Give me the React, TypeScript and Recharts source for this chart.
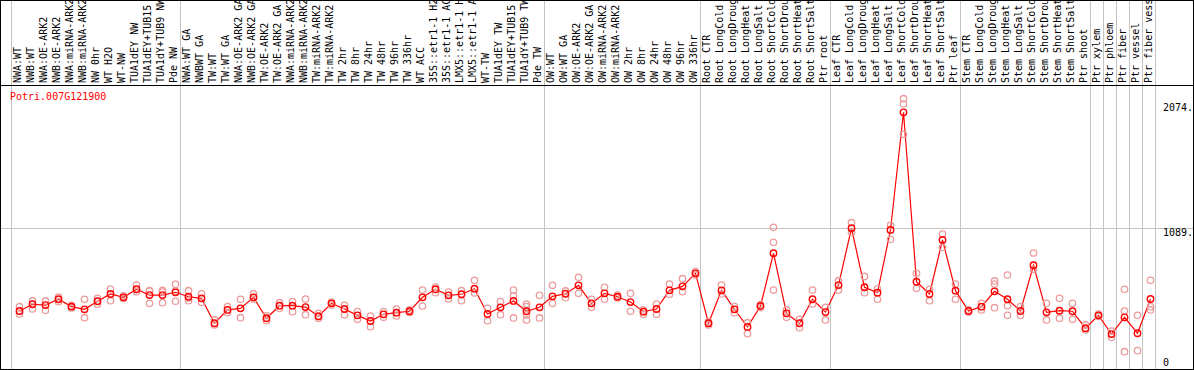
import { ComposedChart, Line, ReferenceLine, Scatter, XAxis, YAxis } from "recharts";

// sample labels, left to right
const categories = [
  "NWA:WT", "NWB:WT", "NWA:OE-ARK2", "NWB:OE-ARK2", "NWA:miRNA-ARK2", "NWB:miRNA-ARK2", "NW 0hr", "WT H2O", "WT-NW",
  "TUA1dEY NW", "TUA1dEY+TUB15 NW", "TUA1dY+TUB9 NW", "Pde NW",
  "NWA:WT GA", "NWBWT GA", "TW:WT", "TW:WT GA", "NWA:OE-ARK2 GA", "NWB:OE-ARK2 GA", "TW:OE-ARK2", "TW:OE-ARK2 GA",
  "NWA:miRNA-ARK2", "NWB:miRNA-ARK2", "TW:miRNA-ARK2", "TW:miRNA-ARK2", "TW 2hr", "TW 8hr", "TW 24hr", "TW 48hr",
  "TW 96hr", "TW 336hr", "WT ACC", "35S::etr1-1 H2O", "35S::etr1-1 ACC", "LMX5::etr1-1 H2O", "LMX5::etr1-1 ACC",
  "WT-TW", "TUA1dEY TW", "TUA1dEY+TUB15 TW", "TUA1dY+TUB9 TW", "Pde TW",
  "OW:WT", "OW:WT GA", "OW:OE-ARK2", "OW:OE-ARK2 GA", "OW:miRNA-ARK2", "OW:miRNA-ARK2", "OW 2hr", "OW 8hr",
  "OW 24hr", "OW 48hr", "OW 96hr", "OW 336hr",
  "Root CTR", "Root LongCold", "Root LongDrought", "Root LongHeat", "Root LongSalt", "Root ShortCold",
  "Root ShortDrought", "Root ShortHeat", "Root ShortSalt", "Ptr root",
  "Leaf CTR", "Leaf LongCold", "Leaf LongDrought", "Leaf LongHeat", "Leaf LongSalt", "Leaf ShortCold",
  "Leaf ShortDrought", "Leaf ShortHeat", "Leaf ShortSalt", "Ptr leaf",
  "Stem CTR", "Stem LongCold", "Stem LongDrought", "Stem LongHeat", "Stem LongSalt", "Stem ShortCold",
  "Stem ShortDrought", "Stem ShortHeat", "Stem ShortSalt", "Ptr shoot",
  "Ptr xylem", "Ptr phloem", "Ptr fiber", "Ptr vessel", "Ptr fiber vessel",
];

const meanValues = [
  463, 514, 508, 552, 496, 476, 537, 592, 567, 628,
  584, 584, 605, 571, 559, 370, 471, 483, 567, 408,
  503, 503, 493, 423, 521, 478, 430, 387, 438, 450,
  461, 567, 628, 582, 590, 632, 440, 491, 539, 461,
  491, 574, 594, 658, 521, 597, 571, 531, 458, 478,
  620, 650, 749, 370, 620, 476, 342, 501, 901, 445,
  370, 552, 455, 660, 1091, 643, 602, 1078, 1971, 685,
  592, 1002, 617, 463, 496, 612, 552, 463, 810, 453,
  465, 461, 332, 430, 288, 415, 294, 554,
];

// replicate measurements
const rep1 = [
  496, 541, 539, 569, 505, 552, 559, 630, 577, 660,
  617, 607, 666, 617, 594, 395, 496, 552, 594, 427,
  526, 535, 554, 445, 531, 506, 458, 425, 458, 478,
  471, 622, 645, 607, 617, 696, 483, 534, 622, 516,
  582, 658, 615, 719, 552, 643, 584, 597, 471, 516,
  668, 708, 761, 382, 660, 496, 374, 512, 1098, 471,
  400, 622, 491, 693, 1133, 725, 631, 1113, 2074, 749,
  628, 1047, 668, 471, 521, 691, 736, 496, 903, 521,
  559, 521, 357, 440, 263, 628, 430, 696,
];

const rep2 = [
  440, 478, 468, 534, 486, 412, 514, 541, 558, 609,
  521, 526, 537, 541, 529, 357, 450, 412, 554, 389,
  483, 458, 435, 408, 508, 435, 400, 344, 415, 425,
  452, 501, 602, 554, 541, 600, 389, 435, 577, 496,
  410, 521, 564, 597, 491, 552, 562, 461, 438, 438,
  590, 609, 736, 357, 592, 450, 291, 489, 984, 415,
  336, 516, 395, 622, 1060, 602, 552, 1007, 2034, 635,
  541, 946, 552, 455, 471, 668, 503, 430, 779, 395,
  408, 400, 319, 421, 311, 463, 162, 496,
];

const rep3 = [
  null, null, null, null, null, null, null, null, null, null,
  614, 619, 615, 562, null, null, null, null, null, null,
  null, null, null, null, null, null, null, null, null, null,
  null, null, null, null, null, null, null, null, 410, 433,
  null, null, null, null, null, null, null, null, null, null,
  null, null, null, null, null, null, null, null, 622, null,
  null, null, null, null, null, null, null, null, 1804, null,
  null, null, null, null, null, 488, 430, null, null, null,
  null, null, null, null, null, 154, null, 471,
];

const rep4 = [
  null, null, null, null, null, null, null, null, null, null,
  null, null, null, null, null, null, null, null, null, null,
  null, null, null, null, null, null, null, null, null, null,
  null, null, null, null, null, null, null, null, null, 395,
  null, null, null, null, null, null, null, null, null, null,
  null, null, null, null, null, null, null, null, null, null,
  null, null, null, null, null, null, null, null, null, null,
  null, null, null, null, null, null, null, null, null, null,
  null, null, null, null, null, null, null, null,
];

// group boundaries (index of first sample in each block)
const groupBreaks = [0, 13, 41, 53, 63, 73, 83, 84, 85, 86, 87, 88];
const yTicks = [0, 1089, 2074];
const yMax = 2178;
const geneId = "Potri.007G121900";

const W = 1194;
const H = 372;
const FONT = "'DejaVu Sans Mono', monospace";
const BAND_OFFSET = 8 / 13;
const tickDy: Record<number, number> = { 0: -6.5, 1089: 7.5, 2074: 12 };

const chartData = meanValues.map((mean, i) => ({ x: i, mean }));
const repData = [rep1, rep2, rep3, rep4].map(rep =>
  rep.flatMap((v, i) => (v == null ? [] : [{ x: i, v }]))
);

function TopTick(props: any) {
  const { x, y, payload } = props;
  const tx = x + 1.5;
  return (
    <text x={tx} y={y} transform={`rotate(-90, ${tx}, ${y})`} textAnchor="start"
      fontFamily={FONT} fontSize={10} fill="#000">
      {categories[payload.value]}
    </text>
  );
}

function RightTick(props: any) {
  const { x, y, payload } = props;
  return (
    <text x={x} y={y + (tickDy[payload.value] ?? 4)} textAnchor="start" fontFamily={FONT} fontSize={10} fill="#000">
      {payload.value === 0 ? "0" : payload.value + "."}
    </text>
  );
}

const RepDot = (p: any) => <circle cx={p.cx} cy={p.cy} r={3.2} fill="none" stroke="#eb9c9c" strokeWidth={1.3} />;

export default function App() {
  return (
    <div style={{ position: "absolute", left: 0, top: 0, width: W, height: 370, overflow: "hidden", background: "#fff" }}>
      <ComposedChart width={W} height={H} data={chartData}
        margin={{ top: 0, right: 0.5, bottom: 0, left: 11.5 }}>
        <XAxis dataKey="x" type="number" orientation="top" height={85}
          domain={[-BAND_OFFSET, 88 - BAND_OFFSET]} allowDataOverflow
          ticks={categories.map((_, i) => i)} interval={0}
          tick={<TopTick />} tickSize={0} tickMargin={2} axisLine={false} tickLine={false} />
        <YAxis orientation="right" width={38} domain={[0, yMax]} allowDataOverflow interval={0}
          ticks={yTicks} tick={<RightTick />} tickSize={0} tickMargin={7.5} axisLine={false} tickLine={false} />
        {groupBreaks.map(k => (
          <ReferenceLine key={k} x={k - BAND_OFFSET} ifOverflow="visible"
            shape={(p: any) => <line x1={p.x1} x2={p.x2} y1={0} y2={H} stroke="#c4c4c4" strokeWidth={1} />} />
        ))}
        <ReferenceLine y={1089} ifOverflow="visible"
          shape={(p: any) => <line x1={0} x2={W} y1={p.y1} y2={p.y2} stroke="#c4c4c4" strokeWidth={1} />} />
        {repData.map((d, i) => (
          <Scatter key={i} data={d} dataKey="v" shape={RepDot} isAnimationActive={false} />
        ))}
        <Line dataKey="mean" stroke="#ff0000" strokeWidth={1.2} isAnimationActive={false} activeDot={false}
          dot={(p: any) => <circle key={p.index} cx={p.cx} cy={p.cy} r={3.2} fill="none" stroke="#ff0000" strokeWidth={1.4} />} />
      </ComposedChart>
      <svg width={200} height={20} style={{ position: "absolute", left: 0, top: 88 }}>
        <text x={10} y={12} fontFamily={FONT} fontSize={10} fill="#ff0000">{geneId}</text>
      </svg>
      <div style={{ position: "absolute", left: 0, top: 85, width: W, height: 1, background: "#000" }} />
      <div style={{ position: "absolute", inset: 0, border: "1px solid #000", boxSizing: "border-box", pointerEvents: "none" }} />
    </div>
  );
}
